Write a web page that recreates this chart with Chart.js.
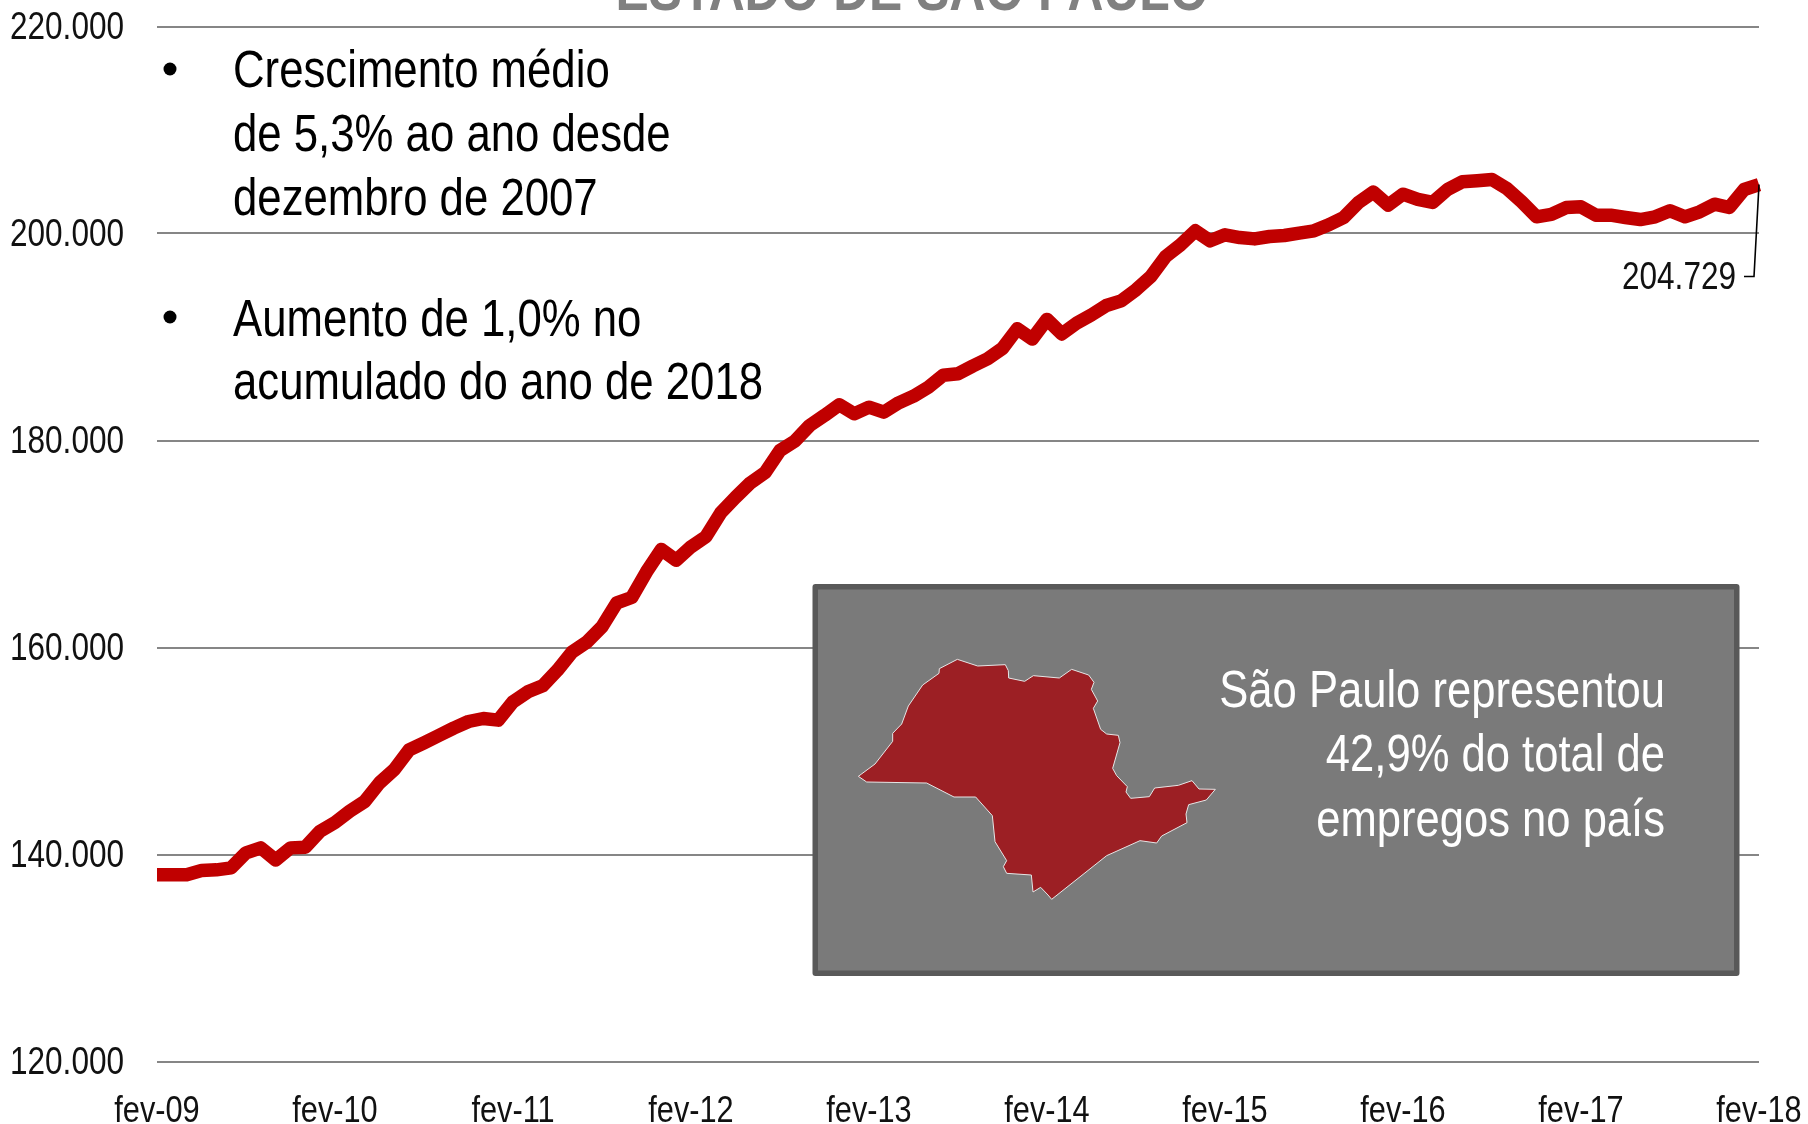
<!DOCTYPE html>
<html lang="pt">
<head>
<meta charset="utf-8">
<title>Estado de São Paulo</title>
<style>html,body{margin:0;padding:0;background:#fff}canvas{display:block}</style>
<script src="https://cdn.jsdelivr.net/npm/chart.js@4"></script>
</head>
<body>
<canvas id="c" width="1808" height="1124"></canvas>
<script>
const categories = [
'fev-09','mar-09','abr-09','mai-09','jun-09','jul-09','ago-09','set-09','out-09','nov-09','dez-09','jan-10',
'fev-10','mar-10','abr-10','mai-10','jun-10','jul-10','ago-10','set-10','out-10','nov-10','dez-10','jan-11',
'fev-11','mar-11','abr-11','mai-11','jun-11','jul-11','ago-11','set-11','out-11','nov-11','dez-11','jan-12',
'fev-12','mar-12','abr-12','mai-12','jun-12','jul-12','ago-12','set-12','out-12','nov-12','dez-12','jan-13',
'fev-13','mar-13','abr-13','mai-13','jun-13','jul-13','ago-13','set-13','out-13','nov-13','dez-13','jan-14',
'fev-14','mar-14','abr-14','mai-14','jun-14','jul-14','ago-14','set-14','out-14','nov-14','dez-14','jan-15',
'fev-15','mar-15','abr-15','mai-15','jun-15','jul-15','ago-15','set-15','out-15','nov-15','dez-15','jan-16',
'fev-16','mar-16','abr-16','mai-16','jun-16','jul-16','ago-16','set-16','out-16','nov-16','dez-16','jan-17',
'fev-17','mar-17','abr-17','mai-17','jun-17','jul-17','ago-17','set-17','out-17','nov-17','dez-17','jan-18',
'fev-18'];
const empregos = [
138040,138040,138040,138450,138520,138710,140160,140640,139480,140640,140710,142250,
143090,144190,145120,146920,148210,150110,150790,151500,152210,152850,153140,152980,
154750,155720,156300,157810,159580,160550,162000,164320,164830,167310,169470,168440,
169730,170700,173000,174500,175900,176900,179030,179940,181450,182420,183450,182580,
183220,182740,183640,184280,185150,186300,186450,187200,187900,188900,190800,189800,
191700,190300,191340,192140,193040,193490,194560,195850,197780,198900,200260,199290,
199870,199610,199480,199710,199810,200030,200260,200840,201550,203000,204000,202740,
203800,203290,203000,204250,204990,205090,205220,204350,203060,201610,201840,202510,
202580,201770,201770,201550,201350,201610,202190,201610,202090,202830,202510,204250,
204729];
const yTicks = [120000,140000,160000,180000,200000,220000];
const lastLabel = '204.729';
const titleText = 'ESTADO DE SÃO PAULO';
const bulletLines = [
  ['Crescimento médio',87],['de 5,3% ao ano desde',151],['dezembro de 2007',215],
  ['Aumento de 1,0% no',336],['acumulado do ano de 2018',399]];
const bulletDots = [69,317];
const boxLines = [['São Paulo representou',707],['42,9% do total de',771],['empregos no país',836]];
const mapOutline = [175,619,225,582,278,514,278,490,305,462,325,408,368,345,417,310,418,296,472,268,533,288,616,284,625,302,626,324,674,334,700,317,778,324,815,298,866,315,882,337,874,358,893,393,880,415,902,478,920,492,955,496,960,518,938,595,950,617,982,650,978,666,992,685,1048,680,1064,654,1135,646,1176,632,1197,657,1246,658,1219,690,1166,704,1158,732,1161,758,1085,798,1070,819,1020,812,920,857,755,988,744,975,722,952,699,966,694,915,620,910,610,890,620,872,585,815,577,737,527,681,462,681,380,639,200,636];

const FONT = '"Liberation Sans",Arial,sans-serif';
const CONDENSE = 0.83;

const canvas = document.getElementById('c');
const ctx0 = canvas.getContext('2d');
// The reference's type is horizontally condensed: every text is drawn squeezed around its anchor.
const nativeFillText = ctx0.fillText;
ctx0.fillText = function(t,x,y,w){
  this.save();
  this.translate(x,y+(this.textBaseline==='middle'?2:0));
  this.scale(CONDENSE,1);
  if(w===undefined) nativeFillText.call(this,t,0,0); else nativeFillText.call(this,t,0,0,w);
  this.restore();
};

const overlay = {
  id:'overlay',
  afterDraw(chart){
    const ctx = chart.ctx;
    ctx.save();
    ctx.textBaseline='alphabetic';
    ctx.font='bold 60px '+FONT; ctx.fillStyle='#808080'; ctx.textAlign='center';
    ctx.fillText(titleText,912,10);
    ctx.fillStyle='#000'; ctx.textAlign='left'; ctx.font='52.7px '+FONT;
    bulletLines.forEach(l=>ctx.fillText(l[0],233,l[1]));
    bulletDots.forEach(y=>{ctx.beginPath();ctx.arc(170,y,6.5,0,Math.PI*2);ctx.fill();});
    ctx.fillStyle='#595959'; ctx.beginPath(); ctx.roundRect(812.5,584,927,392,3); ctx.fill();
    ctx.fillStyle='#7a7a7a'; ctx.fillRect(818,589.5,916,381);
    ctx.beginPath();
    for(let i=0;i<mapOutline.length;i+=2){
      const x=800+mapOutline[i]/3,y=570+mapOutline[i+1]/3;
      if(i===0)ctx.moveTo(x,y);else ctx.lineTo(x,y);
    }
    ctx.closePath();
    ctx.fillStyle='#9c1f24'; ctx.fill();
    ctx.strokeStyle='#e6e6e6'; ctx.lineWidth=1; ctx.stroke();
    ctx.fillStyle='#fff'; ctx.textAlign='right'; ctx.font='52.5px '+FONT;
    boxLines.forEach(l=>ctx.fillText(l[0],1665,l[1]));
    const xs=chart.scales.x, ys=chart.scales.y, n=empregos.length-1;
    const px=xs.getPixelForValue(n), py=ys.getPixelForValue(empregos[n]);
    ctx.strokeStyle='#000'; ctx.lineWidth=1.6;
    ctx.beginPath();ctx.moveTo(px,py);ctx.lineTo(px-5,py+92);ctx.lineTo(px-15,py+92);ctx.stroke();
    ctx.fillStyle='#111'; ctx.font='38px '+FONT;
    ctx.fillText(lastLabel,1736,289);
    ctx.restore();
  }
};

const noScalePadding = s=>{s.paddingTop=0;s.paddingBottom=0;s.paddingLeft=0;s.paddingRight=0;};

new Chart(canvas,{
  type:'line',
  data:{labels:categories,datasets:[{data:empregos,borderColor:'#c00000',borderWidth:13.5,pointRadius:0,tension:0,borderJoinStyle:'round',borderCapStyle:'butt',fill:false}]},
  plugins:[overlay],
  options:{
    responsive:false,animation:false,devicePixelRatio:1,
    layout:{autoPadding:false,padding:{top:26.5,right:49,left:0,bottom:0}},
    plugins:{legend:{display:false},tooltip:{enabled:false},title:{display:false}},
    scales:{
      x:{
        type:'category',offset:false,
        grid:{display:false},border:{display:false},
        afterFit(s){s.height=62.5;noScalePadding(s);},
        ticks:{autoSkip:false,maxRotation:0,minRotation:0,padding:18,color:'#111',
          font:{family:FONT,size:37},
          callback(v,i){return i%12===0?categories[i]:'';}}
      },
      y:{
        min:120000,max:220000,
        afterFit(s){s.width=157;noScalePadding(s);},
        afterBuildTicks(s){s.ticks=yTicks.map(v=>({value:v}));},
        grid:{color:'#868686',lineWidth:2,drawTicks:false},border:{display:false},
        ticks:{padding:33,color:'#111',font:{family:FONT,size:38},
          callback(v){return String(v).replace(/(\d{3})$/,'.$1');}}
      }
    }
  }
});
</script>
</body>
</html>
